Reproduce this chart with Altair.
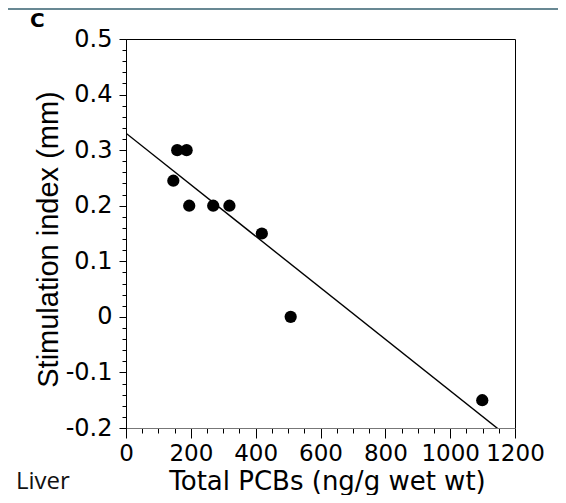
import altair as alt
import pandas as pd

# ---- data ----
pcb = [146, 158, 187, 195, 269, 319, 419, 508, 1099]          # Total PCBs (ng/g wet wt)
stim = [0.245, 0.30, 0.30, 0.20, 0.20, 0.20, 0.15, 0.0, -0.15]  # Stimulation index (mm)

x_major = [0, 200, 400, 600, 800, 1000, 1200]
x_minor = [v for v in range(0, 1201, 50)]
y_major = [-0.2, -0.1, 0, 0.1, 0.2, 0.3, 0.4, 0.5]
y_minor = [round(-0.2 + 0.02 * i, 2) for i in range(36)]

panel_label = "C"
corner_label = "Liver"
x_title = "Total PCBs (ng/g wet wt)"
y_title = "Stimulation index (mm)"

FONT = "Liberation Sans"
WIDE = "DejaVu Sans"
SLATE = "#688893"

df = pd.DataFrame({"pcb": pcb, "stim": stim})
one = pd.DataFrame({"k": [0]})

xs = alt.Scale(domain=[0, 1200], nice=False, zero=False)
ys = alt.Scale(domain=[-0.2, 0.5], nice=False, zero=False)

x_axis_major = alt.Axis(
    orient="bottom", values=x_major, format="d", tickSize=10, tickColor="black",
    labelFont=WIDE, labelFontSize=23, labelColor="black", labelPadding=4,
    labelFlush=False, labelOverlap=False, domainColor="#777777",
    title=x_title, titleFont=WIDE, titleFontSize=26, titleFontWeight="normal",
    titleColor="black", titleX=201, titleY=61, titleBaseline="alphabetic",
)
y_axis_major = alt.Axis(
    orient="left", values=y_major, tickSize=7, tickColor="black",
    labelExpr="datum.value < 0 ? '-' + format(-datum.value, '.1~f') : format(datum.value, '.1~f')",
    labelFont=WIDE, labelFontSize=24, labelColor="black", labelPadding=7,
    labelFlush=False, labelOverlap=False, domainColor="black",
    title=y_title, titleFont=FONT, titleFontSize=29, titleFontWeight="normal",
    titleColor="black", titleX=-69, titleY=200, titleAngle=-90,
    titleBaseline="alphabetic", titleAlign="center",
)
x_axis_minor = alt.Axis(
    orient="bottom", values=x_minor, tickSize=5, tickColor="black",
    labels=False, domain=False, title="",
)
y_axis_minor = alt.Axis(
    orient="left", values=y_minor, tickSize=4, tickColor="black",
    labels=False, domain=False, title="",
)

points = alt.Chart(df).mark_circle(size=150, color="black", opacity=1).encode(
    x=alt.X("pcb:Q", scale=xs, axis=x_axis_major),
    y=alt.Y("stim:Q", scale=ys, axis=y_axis_major),
)

fit = alt.Chart(df).transform_regression(
    "pcb", "stim", extent=[0, 1200]
).mark_line(color="black", strokeWidth=1.4, clip=True).encode(
    x=alt.X("pcb:Q", scale=xs, axis=x_axis_minor),
    y=alt.Y("stim:Q", scale=ys, axis=y_axis_minor),
)

band_top = alt.Chart(one).mark_rect(color=SLATE).encode(
    x=alt.value(-118), x2=alt.value(432), y=alt.value(-31), y2=alt.value(-29)
)

c_text = alt.Chart(one).mark_text(
    text=panel_label, align="left", baseline="alphabetic", font=WIDE,
    fontSize=20, fontWeight="bold", color="black",
).encode(x=alt.value(-96), y=alt.value(-12))

liver_text = alt.Chart(one).mark_text(
    text=corner_label, align="left", baseline="alphabetic", font="Open Sans",
    fontSize=24, color="#111111",
).encode(x=alt.value(-110), y=alt.value(450))

chart = alt.layer(
    band_top, fit, points, c_text, liver_text
).resolve_axis(
    x="independent", y="independent"
).properties(
    width=389, height=389,
    autosize=alt.AutoSizeParams(type="none"),
    padding={"left": 118, "top": 31, "right": 43, "bottom": 67},
    background="white",
).configure_view(
    stroke="black", strokeWidth=1
).configure_axis(
    grid=False
)

chart.save("out.html", embed_options={"renderer": "svg", "actions": False})
